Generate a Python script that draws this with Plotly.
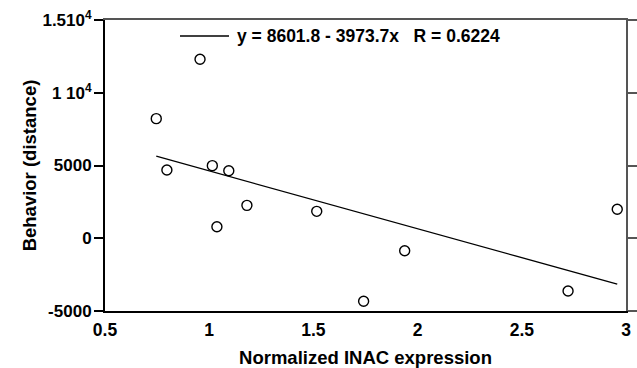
import plotly.graph_objects as go

# Data
inac_expr = [0.746, 0.797, 0.956, 1.015, 1.037, 1.094, 1.181, 1.516, 1.741, 1.938, 2.722, 2.958]
behavior = [8220, 4690, 12300, 4990, 790, 4640, 2260, 1850, -4330, -860, -3630, 1990]
intercept = 8601.8
slope = -3973.7
r_value = 0.6224

x_ticks = [0.5, 1, 1.5, 2, 2.5, 3]
x_ticktext = ["0.5", "1", "1.5", "2", "2.5", "3"]
y_ticks = [-5000, 0, 5000, 10000, 15000]
y_ticktext = ["-5000", "0", "5000", "1 10<sup>4</sup>", "1.510<sup>4</sup>"]

fit_x = [min(inac_expr), max(inac_expr)]
fit_y = [intercept + slope * v for v in fit_x]

FONT = "Liberation Sans, Arial, sans-serif"

fig = go.Figure()
fig.add_trace(go.Scatter(x=fit_x, y=fit_y, mode="lines",
                         line=dict(color="black", width=1.3),
                         showlegend=False, hoverinfo="skip"))
fig.add_trace(go.Scatter(x=inac_expr, y=behavior, mode="markers",
                         marker=dict(symbol="circle-open", size=10, color="black",
                                     line=dict(width=1.4, color="black")),
                         showlegend=False))
# invisible trace to activate the mirrored frame axes
fig.add_trace(go.Scatter(x=fit_x, y=fit_y, xaxis="x2", yaxis="y2", mode="lines",
                         line=dict(color="rgba(0,0,0,0)"), showlegend=False, hoverinfo="skip"))

fig.update_layout(
    width=637, height=368, autosize=False,
    margin=dict(l=105, r=11, t=20, b=57),
    plot_bgcolor="white", paper_bgcolor="white",
    font=dict(family=FONT, size=17, color="black"),
    xaxis=dict(range=[0.5, 3], tickvals=x_ticks, ticktext=x_ticktext,
               ticks="", showgrid=False, zeroline=False, automargin=False,
               showline=True, linecolor="black", linewidth=2,
               ticklabelstandoff=2, ticklabeloverflow="allow",
               tickfont=dict(family=FONT, size=17.5, weight="bold"),
               title=dict(text="<b>Normalized INAC expression</b>",
                          font=dict(family=FONT, size=18.5), standoff=13)),
    yaxis=dict(range=[-5000, 15000], tickvals=y_ticks, ticktext=y_ticktext,
               ticks="outside", ticklen=9, tickwidth=1.5, tickcolor="black",
               showgrid=False, zeroline=False, automargin=False,
               showline=True, linecolor="black", linewidth=2,
               ticklabelstandoff=-1, ticklabeloverflow="allow",
               tickfont=dict(family=FONT, size=17, weight="bold"),
               title=dict(text="<b>Behavior (distance)</b>",
                          font=dict(family=FONT, size=18.5), standoff=1)),
    xaxis2=dict(range=[0.5, 3], overlaying="x", side="top", showticklabels=False,
                ticks="", showgrid=False, zeroline=False, automargin=False,
                showline=True, linecolor="#555555", linewidth=1.5),
    yaxis2=dict(range=[-5000, 15000], overlaying="y", side="right", anchor="x",
                tickvals=y_ticks, showticklabels=False, automargin=False,
                ticks="outside", ticklen=10, tickwidth=1.5, tickcolor="#555555",
                showgrid=False, zeroline=False,
                showline=True, linecolor="#555555", linewidth=1.5),
    showlegend=False,
)

# key line and equation label
fig.add_shape(type="line", xref="paper", yref="paper",
              x0=(180 - 105) / 521, x1=(229 - 105) / 521,
              y0=(311 - 36) / 291, y1=(311 - 36) / 291,
              line=dict(color="black", width=1.3))
fig.add_annotation(xref="paper", yref="paper",
                   x=(235 - 105) / 521, y=(311 - 36) / 291,
                   xanchor="left", yanchor="middle", showarrow=False,
                   text=f"<b>y = {intercept} - {abs(slope)}x   R = {r_value}</b>",
                   font=dict(family=FONT, size=17.5, color="black"))

fig.write_html("out.html",
               config={"displayModeBar": False},
               post_script="document.body.style.margin='0';"
                           "document.documentElement.style.overflow='hidden';")
